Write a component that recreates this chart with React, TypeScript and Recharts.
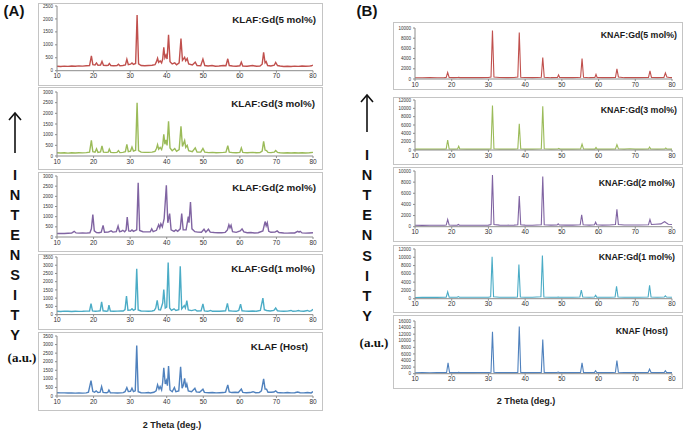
import React from "react";
import { LineChart, Line, XAxis, YAxis } from "recharts";

// 2-theta ticks shared by every pattern
const thetaTicks = [10, 20, 30, 40, 50, 60, 70, 80];

// ---- Panel A: KLAF patterns, [2theta, intensity] ----
const klaf5: [number, number][] = [
  [10, 170], [11, 160], [12, 175], [13, 165], [14, 180], [15, 170], [16, 185], [17, 175], [18, 190],
  [18.9, 200], [19.4, 570], [19.8, 230], [20.4, 220], [20.8, 300], [21.2, 210], [21.9, 220], [22.3, 360],
  [22.7, 210], [23.5, 200], [24.0, 210], [24.3, 280], [24.7, 200], [25.5, 190], [26.4, 200], [26.8, 250],
  [27.2, 190], [28.0, 200], [28.7, 220], [29.1, 440], [29.5, 230], [30.1, 250], [30.5, 300], [30.9, 240],
  [31.5, 280], [31.9, 2150], [32.3, 260], [33, 200], [34, 190], [35, 200], [36, 210], [36.8, 230],
  [37.2, 350], [37.5, 480], [37.8, 320], [38.2, 380], [38.6, 300], [38.9, 450], [39.2, 900], [39.5, 500],
  [39.8, 600], [40.1, 450], [40.5, 1390], [40.9, 350], [41.5, 260], [42.2, 300], [42.7, 230], [43.4, 300],
  [43.9, 1240], [44.3, 400], [44.9, 520], [45.2, 380], [45.6, 470], [46.0, 260], [47, 220], [47.8, 330],
  [48.3, 200], [49.3, 190], [49.9, 450], [50.4, 200], [51.3, 180], [52.4, 200], [53.3, 170], [54.3, 180],
  [55.5, 200], [56.2, 190], [56.7, 460], [57.1, 200], [58, 180], [59, 170], [60, 190], [60.4, 330],
  [60.8, 180], [62, 170], [63.5, 200], [64.5, 170], [65.5, 180], [66.1, 250], [66.5, 710], [66.9, 300],
  [67.2, 350], [67.6, 200], [68.5, 180], [69.4, 210], [69.8, 320], [70.3, 200], [71, 180], [72, 160],
  [73, 170], [74, 160], [75, 175], [76, 165], [77, 180], [78, 170], [79, 175], [79.6, 190], [80, 220],
];

const klaf3: [number, number][] = [
  [10, 150], [11, 140], [12, 150], [13, 135], [14, 150], [15, 140], [16, 150], [17, 145], [18, 160],
  [18.9, 180], [19.4, 730], [19.8, 200], [20.4, 180], [20.8, 340], [21.2, 170], [21.9, 190], [22.3, 470],
  [22.7, 180], [23.5, 170], [24.0, 180], [24.3, 320], [24.7, 170], [25.5, 160], [26.4, 170], [26.8, 250],
  [27.2, 160], [28, 170], [28.7, 200], [29.1, 550], [29.5, 200], [30.1, 230], [30.5, 420], [30.9, 230],
  [31.5, 270], [31.9, 2500], [32.3, 250], [33, 180], [34, 170], [35, 170], [36, 180], [36.8, 220],
  [37.2, 350], [37.5, 530], [37.8, 320], [38.2, 400], [38.6, 300], [38.9, 500], [39.2, 1020], [39.5, 550],
  [39.8, 750], [40.1, 500], [40.5, 1625], [40.9, 380], [41.5, 250], [42.2, 350], [42.7, 220], [43.4, 300],
  [43.9, 1390], [44.3, 450], [44.9, 730], [45.2, 400], [45.6, 500], [46.0, 250], [47, 200], [47.8, 380],
  [48.3, 180], [49.3, 180], [49.9, 350], [50.4, 180], [51.5, 160], [52.5, 170], [53.5, 150], [54.5, 160],
  [55.5, 170], [56.2, 180], [56.7, 480], [57.1, 180], [58, 160], [59, 150], [60, 170], [60.4, 380],
  [60.8, 170], [62, 150], [63.5, 170], [64.5, 150], [65.5, 160], [66.1, 230], [66.5, 690], [66.9, 280],
  [67.3, 250], [67.7, 170], [68.5, 160], [69.4, 180], [69.8, 260], [70.3, 170], [71, 150], [72, 140],
  [73, 150], [74, 140], [75, 150], [76, 140], [77, 150], [78, 140], [79, 150], [80, 170],
];

const klaf2: [number, number][] = [
  [10, 170], [11, 180], [12, 170], [13, 185], [14, 190], [14.7, 280], [15.2, 200], [16, 190], [17, 200],
  [18, 190], [19, 210], [19.4, 400], [19.8, 1100], [20.2, 300], [20.8, 220], [21.5, 210], [22.1, 240],
  [22.6, 570], [23, 230], [24, 240], [24.8, 300], [25.3, 240], [26.2, 260], [26.7, 540], [27.1, 260],
  [27.6, 280], [28, 330], [28.5, 260], [28.9, 350], [29.2, 980], [29.6, 300], [30.1, 280], [30.5, 350],
  [30.9, 280], [31.8, 350], [32.2, 2670], [32.6, 320], [33.5, 260], [34.5, 250], [35.5, 260], [35.9, 400],
  [36.3, 260], [37.2, 330], [37.8, 600], [38.1, 450], [38.4, 650], [38.8, 500], [39.3, 900], [39.9, 2540],
  [40.3, 700], [40.8, 1150], [41.2, 350], [42, 280], [42.5, 350], [43, 280], [43.7, 400], [44.1, 1150],
  [44.5, 350], [45.3, 350], [45.9, 1000], [46.1, 700], [46.5, 1720], [46.9, 400], [47.7, 260], [48.5, 240],
  [49.5, 230], [50.2, 380], [50.7, 240], [51.4, 380], [51.9, 240], [53, 220], [54, 210], [55, 210],
  [56, 230], [56.6, 350], [57, 600], [57.3, 450], [57.6, 580], [58, 260], [59, 230], [60.1, 300],
  [60.6, 400], [61.1, 250], [62, 210], [63, 220], [64, 200], [65, 210], [66.3, 300], [66.9, 760],
  [67.2, 550], [67.5, 700], [67.9, 280], [68.5, 230], [69.6, 240], [70.2, 300], [70.7, 220], [72, 200],
  [73, 190], [74, 200], [75, 200], [75.8, 280], [76.2, 240], [76.5, 280], [77, 200], [78, 190], [79, 200],
  [80, 210],
];

const klaf1: [number, number][] = [
  [10, 200], [11, 190], [12, 210], [13, 200], [14, 190], [15, 205], [16, 195], [17, 200], [18, 210],
  [18.9, 220], [19.3, 670], [19.7, 220], [20.5, 200], [21.1, 210], [21.8, 230], [22.2, 770], [22.6, 230],
  [23.5, 200], [23.9, 220], [24.2, 570], [24.6, 210], [25.5, 200], [26.5, 210], [27.5, 220], [28.1, 220],
  [28.6, 300], [29.0, 1130], [29.4, 260], [30.1, 270], [30.5, 350], [30.9, 260], [31.4, 320], [31.8, 2790],
  [32.2, 280], [33, 220], [34, 210], [35, 200], [36, 220], [36.6, 260], [37.0, 400], [37.4, 870],
  [37.8, 300], [38.3, 280], [38.9, 700], [39.2, 1520], [39.6, 400], [40, 450], [40.4, 3160], [40.8, 400],
  [41.3, 260], [42, 350], [42.5, 250], [43.3, 300], [43.7, 2930], [44.1, 350], [44.8, 550], [45.1, 400],
  [45.5, 850], [45.9, 280], [46.8, 240], [47.8, 300], [48.3, 220], [49.4, 230], [49.9, 650], [50.3, 220],
  [51.2, 200], [52, 250], [52.5, 200], [53.5, 210], [54.5, 200], [55.5, 220], [56.1, 230], [56.6, 680],
  [57, 230], [58, 210], [59, 200], [59.7, 250], [60.2, 630], [60.6, 230], [61.5, 210], [62.5, 200],
  [63.5, 220], [64.5, 200], [65.6, 250], [66.3, 1000], [66.7, 300], [67.3, 250], [68.3, 220], [69.3, 260],
  [69.8, 400], [70.3, 230], [71, 210], [72, 200], [73, 210], [74, 250], [74.5, 200], [75.4, 210],
  [76, 250], [76.6, 210], [77.5, 200], [78.5, 250], [79, 200], [79.6, 240], [80, 320],
];

const klafHost: [number, number][] = [
  [10, 190], [11, 180], [12, 185], [13, 175], [14, 180], [15, 170], [16, 175], [17, 170], [18, 180],
  [18.6, 220], [19.3, 900], [19.8, 260], [20.3, 220], [20.7, 300], [21.2, 200], [21.8, 220], [22.2, 545],
  [22.6, 210], [23.5, 190], [23.9, 210], [24.2, 350], [24.6, 190], [25.5, 180], [26.5, 175], [27.5, 180],
  [28.1, 200], [28.6, 250], [29.1, 490], [29.5, 260], [30.1, 270], [30.5, 450], [30.9, 260], [31.4, 300],
  [31.8, 2950], [32.2, 250], [33, 190], [34, 180], [35, 200], [35.5, 180], [36.5, 220], [37.1, 300],
  [37.5, 650], [37.9, 400], [38.2, 550], [38.6, 350], [38.9, 800], [39.2, 1650], [39.6, 700], [39.9, 900],
  [40.2, 600], [40.5, 1750], [40.9, 350], [41.5, 250], [42.1, 500], [42.5, 250], [43.3, 300], [43.8, 1710],
  [44.2, 450], [44.5, 600], [44.9, 1030], [45.2, 500], [45.5, 700], [45.9, 300], [46.8, 250], [47.7, 450],
  [48.1, 240], [49, 220], [49.9, 400], [50.3, 210], [51.5, 190], [52.5, 200], [53.5, 180], [54.5, 190],
  [55.5, 200], [56.1, 230], [56.7, 650], [57.1, 240], [57.8, 200], [58.7, 220], [59.6, 200], [60.4, 400],
  [60.8, 210], [61.8, 190], [62.8, 200], [63.6, 250], [64.3, 190], [65.3, 200], [65.9, 300], [66.5, 1000],
  [66.9, 400], [67.3, 400], [67.7, 220], [68.6, 220], [69.3, 230], [69.8, 300], [70.3, 200], [71, 190],
  [72, 180], [73, 200], [74, 180], [75, 190], [75.8, 230], [76.5, 190], [77.5, 180], [78.5, 200],
  [79.5, 180], [80, 260],
];

// ---- Panel B: KNAF patterns ----
const knaf5: [number, number][] = [
  [10, 250], [12, 240], [14, 260], [16, 250], [18, 270], [18.5, 300], [18.9, 1300], [19.3, 300],
  [20.5, 260], [21.6, 280], [21.9, 350], [22.2, 270], [24, 260], [26, 270], [28, 260], [30, 280],
  [30.7, 400], [31.1, 9500], [31.5, 400], [33, 280], [35, 270], [37, 280], [38, 400], [38.4, 9100],
  [38.8, 350], [40, 280], [42, 270], [44.4, 350], [44.8, 4200], [45.2, 350], [47, 260], [48.8, 280],
  [49.1, 800], [49.4, 280], [51, 260], [53, 260], [55.1, 350], [55.5, 4000], [55.9, 350], [57.5, 260],
  [59, 300], [59.3, 900], [59.6, 300], [61, 260], [63, 260], [64.6, 300], [65.0, 2000], [65.4, 400],
  [67, 260], [69, 270], [71, 260], [73.6, 300], [74, 1600], [74.4, 300], [76, 270], [77.8, 300],
  [78.2, 1200], [78.6, 400], [79.3, 300], [80, 270],
];

const knaf3: [number, number][] = [
  [10, 200], [12, 210], [14, 200], [16, 210], [18, 220], [18.5, 250], [18.9, 2400], [19.3, 250],
  [20.5, 220], [21.6, 230], [21.9, 900], [22.2, 230], [24, 210], [26, 220], [28, 210], [30, 220],
  [30.7, 300], [31.1, 10700], [31.5, 300], [33, 220], [35, 210], [37, 220], [38, 300], [38.4, 6300],
  [38.8, 300], [40, 220], [42, 210], [44.4, 300], [44.8, 10500], [45.2, 300], [47, 220], [48.9, 230],
  [49.2, 400], [49.5, 220], [51, 210], [53, 210], [55.1, 250], [55.5, 1400], [55.9, 250], [57.5, 210],
  [59, 220], [59.3, 600], [59.6, 220], [61, 210], [63, 210], [64.6, 250], [65, 1300], [65.4, 300],
  [67, 220], [68.5, 300], [70, 220], [72, 210], [73.6, 250], [73.9, 700], [74.2, 250], [76, 210],
  [78, 230], [78.3, 500], [78.6, 230], [80, 210],
];

const knaf2: [number, number][] = [
  [10, 250], [12, 240], [14, 250], [16, 260], [18, 260], [18.5, 300], [18.9, 1320], [19.3, 300],
  [20.5, 260], [21.5, 270], [21.8, 400], [22.1, 270], [24, 260], [26, 270], [28, 260], [30, 280],
  [30.7, 400], [31.1, 9300], [31.5, 400], [33, 280], [35, 270], [37, 280], [38, 350], [38.4, 5500],
  [38.8, 350], [40, 280], [42, 270], [44.4, 350], [44.8, 9000], [45.2, 350], [47, 280], [48.7, 300],
  [49, 500], [49.3, 300], [51, 280], [53, 280], [55, 350], [55.4, 2150], [55.8, 350], [57.5, 290],
  [58.9, 350], [59.2, 800], [59.5, 350], [61, 290], [63, 300], [64.6, 400], [65, 3100], [65.4, 400],
  [67, 300], [69, 300], [71, 310], [73.6, 350], [74, 1300], [74.4, 400], [75.5, 450], [77, 500],
  [77.7, 800], [78, 900], [78.4, 700], [79, 450], [80, 400],
];

const knaf1: [number, number][] = [
  [10, 300], [12, 320], [14, 310], [16, 320], [18, 330], [18.5, 350], [18.9, 1670], [19.3, 350],
  [20.5, 330], [21.5, 340], [21.8, 500], [22.1, 340], [24, 330], [26, 340], [28, 330], [30, 350],
  [30.6, 450], [31, 10150], [31.4, 450], [33, 340], [35, 330], [37, 340], [37.9, 400], [38.3, 8250],
  [38.7, 400], [40, 340], [42, 330], [44.3, 450], [44.7, 10400], [45.1, 400], [47, 340], [48.7, 350],
  [49, 400], [49.3, 340], [51, 330], [53, 330], [54.9, 400], [55.3, 2100], [55.7, 400], [57.5, 340],
  [58.9, 400], [59.2, 800], [59.5, 380], [61, 340], [63, 340], [64.5, 400], [64.9, 3000], [65.3, 420],
  [67, 340], [69, 350], [71, 340], [73.5, 400], [73.9, 3250], [74.3, 400], [76, 350], [77.9, 400],
  [78.2, 700], [78.5, 400], [80, 350],
];

const knafHost: [number, number][] = [
  [10, 300], [12, 310], [14, 300], [16, 310], [18, 320], [18.6, 350], [19, 3300], [19.4, 350],
  [20.5, 320], [21.6, 330], [21.9, 400], [22.2, 320], [24, 310], [26, 320], [27, 350], [28, 340],
  [30, 350], [30.7, 450], [31.1, 12700], [31.5, 450], [33, 330], [35, 320], [37, 330], [38, 400],
  [38.4, 14300], [38.8, 400], [40, 330], [42, 320], [44.4, 400], [44.8, 10400], [45.2, 400], [47, 320],
  [48.7, 350], [49, 500], [49.3, 330], [51, 320], [53, 320], [55.1, 400], [55.5, 3300], [55.9, 400],
  [57.5, 330], [58.9, 400], [59.2, 900], [59.5, 380], [61, 330], [63, 330], [64.6, 450], [65, 4000],
  [65.4, 450], [67, 340], [69, 330], [71, 330], [73.5, 400], [73.9, 1400], [74.3, 400], [76, 330],
  [77.9, 400], [78.2, 900], [78.5, 400], [80, 330],
];

// y tick lists
const ticks2500 = [0, 500, 1000, 1500, 2000, 2500];
const ticks3000 = [0, 500, 1000, 1500, 2000, 2500, 3000];
const ticks3500 = [0, 500, 1000, 1500, 2000, 2500, 3000, 3500];
const ticks10k = [0, 2000, 4000, 6000, 8000, 10000];
const ticks12k = [0, 2000, 4000, 6000, 8000, 10000, 12000];
const ticks16k = [0, 2000, 4000, 6000, 8000, 10000, 12000, 14000, 16000];

const SANS = "'Liberation Sans', Arial, sans-serif";
const PAD_L = 30;
const PAD_T = 5;
const PAD_R = 8;
const XH = 14;

type PlotSpec = {
  data: [number, number][];
  color: string;
  width: number;
  yTicks: number[];
  label: string;
  labelSize: number;
  labelRight: number;
  labelY: number;
  box: [number, number, number, number]; // left, top, right, bottom
  plot: [number, number, number, number]; // L, T, R, B
};

const boxA = (top: number, bottom: number): [number, number, number, number] => [38, top, 323, bottom];
const boxB = (top: number, bottom: number): [number, number, number, number] => [393, top, 683, bottom];

const plots: PlotSpec[] = [
  { data: klaf5, color: "#c0504d", width: 1.4, yTicks: ticks2500, label: "KLAF:Gd(5 mol%)", labelSize: 9.8, labelRight: 316, labelY: 20, box: boxA(3, 86), plot: [57, 6, 313, 70.7] },
  { data: klaf3, color: "#9bbb59", width: 1.4, yTicks: ticks3000, label: "KLAF:Gd(3 mol%)", labelSize: 9.8, labelRight: 315, labelY: 104, box: boxA(87, 170), plot: [57, 91.7, 313, 155.7] },
  { data: klaf2, color: "#8064a2", width: 1.4, yTicks: ticks3000, label: "KLAF:Gd(2 mol%)", labelSize: 9.8, labelRight: 316, labelY: 188, box: boxA(172, 252), plot: [57, 175.7, 313, 236.7] },
  { data: klaf1, color: "#4bacc6", width: 1.4, yTicks: ticks3500, label: "KLAF:Gd(1 mol%)", labelSize: 9.8, labelRight: 315, labelY: 269, box: boxA(254, 330), plot: [57, 256.7, 313, 314.3] },
  { data: klafHost, color: "#4f81bd", width: 1.4, yTicks: ticks3500, label: "KLAF (Host)", labelSize: 9.8, labelRight: 308, labelY: 347, box: boxA(332, 411), plot: [57, 336, 313, 396] },
  { data: knaf5, color: "#c0504d", width: 1.1, yTicks: ticks10k, label: "KNAF:Gd(5 mol%)", labelSize: 8.8, labelRight: 677, labelY: 35, box: boxB(22, 90), plot: [415, 28, 672, 79] },
  { data: knaf3, color: "#9bbb59", width: 1.1, yTicks: ticks12k, label: "KNAF:Gd(3 mol%)", labelSize: 8.8, labelRight: 677, labelY: 110, box: boxB(97, 165), plot: [415, 100, 672, 150] },
  { data: knaf2, color: "#8064a2", width: 1.1, yTicks: ticks10k, label: "KNAF:Gd(2 mol%)", labelSize: 8.8, labelRight: 675, labelY: 183, box: boxB(167, 242), plot: [415, 171, 672, 226.7] },
  { data: knaf1, color: "#4bacc6", width: 1.1, yTicks: ticks12k, label: "KNAF:Gd(1 mol%)", labelSize: 8.8, labelRight: 675, labelY: 257, box: boxB(245, 313), plot: [415, 249, 672, 298.7] },
  { data: knafHost, color: "#4f81bd", width: 1.1, yTicks: ticks16k, label: "KNAF (Host)", labelSize: 8.8, labelRight: 668, labelY: 331, box: boxB(315, 389), plot: [415, 321, 672, 373.7] },
];

const intensity = ["I", "N", "T", "E", "N", "S", "I", "T", "Y"];

function Pattern({ p }: { p: PlotSpec }) {
  const [L, T, R, B] = p.plot;
  const [bl, bt, br, bb] = p.box;
  const rows = p.data.map(([x, y]) => ({ x, y }));
  const yMax = p.yTicks[p.yTicks.length - 1];
  return (
    <>
      <div
        style={{
          position: "absolute",
          left: bl,
          top: bt,
          width: br - bl,
          height: bb - bt,
          border: "1px solid #c4c4c4",
          boxSizing: "border-box",
        }}
      />
      <div style={{ position: "absolute", left: L - PAD_L, top: T - PAD_T }}>
        <LineChart
          width={R - L + PAD_L + PAD_R}
          height={B - T + PAD_T + XH}
          data={rows}
          margin={{ top: PAD_T, right: PAD_R, left: 0, bottom: 0 }}
        >
          <XAxis
            dataKey="x"
            type="number"
            domain={[10, 80]}
            ticks={thetaTicks}
            interval={0}
            height={XH}
            allowDataOverflow
            tick={{ fontSize: 6.5, fill: "#333", fontFamily: SANS }}
            tickSize={2}
            tickMargin={1}
            axisLine={{ stroke: "#8c8c8c" }}
            tickLine={{ stroke: "#8c8c8c" }}
          />
          <YAxis
            type="number"
            domain={[0, yMax]}
            ticks={p.yTicks}
            interval={0}
            width={PAD_L}
            allowDataOverflow
            tick={{ fontSize: 4.5, fill: "#333", fontFamily: SANS }}
            tickSize={2}
            tickMargin={2}
            axisLine={{ stroke: "#8c8c8c" }}
            tickLine={{ stroke: "#8c8c8c" }}
          />
          <Line
            type="linear"
            dataKey="y"
            stroke={p.color}
            strokeWidth={p.width}
            dot={false}
            isAnimationActive={false}
          />
        </LineChart>
      </div>
      <div
        style={{
          position: "absolute",
          right: 685 - p.labelRight,
          top: p.labelY - p.labelSize * 0.6,
          fontFamily: SANS,
          fontWeight: "bold",
          fontSize: p.labelSize,
          color: "#1a1a1a",
          whiteSpace: "nowrap",
          lineHeight: 1.2,
        }}
      >
        {p.label}
      </div>
    </>
  );
}

function SideTitle({ cx, arrowTop, arrowBottom, letterTop, step, auY }: { cx: number; arrowTop: number; arrowBottom: number; letterTop: number; step: number; auY: number }) {
  return (
    <g>
      <line x1={cx} y1={arrowTop + 1} x2={cx} y2={arrowBottom} stroke="#111" strokeWidth={1.6} />
      <polyline points={`${cx - 6},${arrowTop + 7} ${cx},${arrowTop} ${cx + 6},${arrowTop + 7}`} fill="none" stroke="#111" strokeWidth={1.6} />
      {intensity.map((ch, i) => (
        <text key={i} x={cx} y={letterTop + i * step} textAnchor="middle" dominantBaseline="central" fontFamily={SANS} fontWeight="bold" fontSize={14.5} fill="#111">
          {ch}
        </text>
      ))}
      <text x={cx + 7} y={auY} textAnchor="middle" dominantBaseline="central" fontFamily="'Liberation Serif', 'Times New Roman', serif" fontWeight="bold" fontSize={13} fill="#111">
        (a.u.)
      </text>
    </g>
  );
}

export default function App() {
  return (
    <div style={{ position: "absolute", left: 0, top: 0, width: 685, height: 435, background: "#fff", overflow: "hidden" }}>
      <svg width={685} height={435} style={{ position: "absolute", left: 0, top: 0 }}>
        <text x={14} y={10} textAnchor="middle" dominantBaseline="central" fontFamily={SANS} fontWeight="bold" fontSize={15} fill="#111">(A)</text>
        <text x={367} y={10} textAnchor="middle" dominantBaseline="central" fontFamily={SANS} fontWeight="bold" fontSize={15} fill="#111">(B)</text>
        <SideTitle cx={15} arrowTop={113} arrowBottom={153} letterTop={175} step={20} auY={357} />
        <SideTitle cx={367} arrowTop={95} arrowBottom={132} letterTop={155} step={20.1} auY={342} />
        <text x={172} y={425} textAnchor="middle" dominantBaseline="central" fontFamily={SANS} fontWeight="bold" fontSize={9} fill="#222">2 Theta (deg.)</text>
        <text x={526} y={401} textAnchor="middle" dominantBaseline="central" fontFamily={SANS} fontWeight="bold" fontSize={9} fill="#222">2 Theta (deg.)</text>
      </svg>
      {plots.map((p, i) => (
        <Pattern key={i} p={p} />
      ))}
    </div>
  );
}
